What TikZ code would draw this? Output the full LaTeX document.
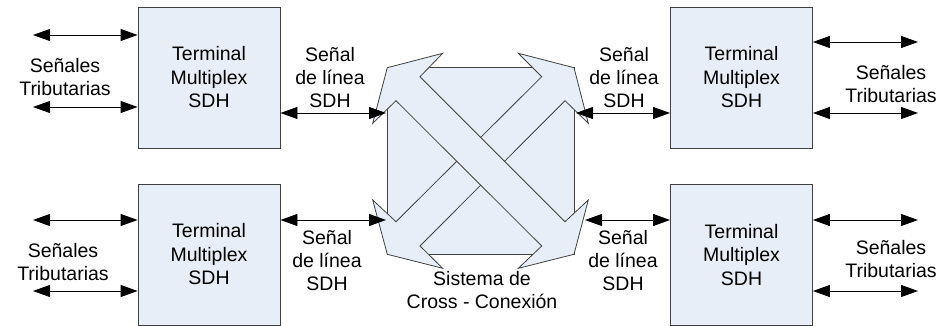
\documentclass[tikz,border=0pt]{standalone}
\usepackage{fontspec}
\setmainfont{Liberation Sans}
\usetikzlibrary{arrows.meta}
\definecolor{boxfill}{HTML}{E8EEF7}
\definecolor{boxline}{HTML}{404040}
\begin{document}
\begin{tikzpicture}[x=1pt,y=-1pt,
  tbox/.style={draw=boxline,fill=boxfill,line width=0.9pt,minimum width=142pt,minimum height=141pt,inner sep=0pt,align=center,font=\fontsize{19.5}{23.5}\selectfont},
  lbl/.style={align=center,inner sep=0pt,font=\fontsize{19.5}{23}\selectfont},
  dbl/.style={{Triangle[length=17pt,width=12pt]}-{Triangle[length=17pt,width=12pt]},line width=0.9pt,black},
  crossband/.style={draw=boxline,fill=boxfill,line width=0.8pt,line join=miter}]
\useasboundingbox (0,0) rectangle (941,326);
% boxes
\node[tbox] (tl) at (209,77.5) {Terminal\\Multiplex\\SDH};
\node[tbox] (tr) at (741.5,77.5) {Terminal\\Multiplex\\SDH};
\node[tbox] (bl) at (209,254.5) {Terminal\\Multiplex\\SDH};
\node[tbox] (br) at (741.5,255) {Terminal\\Multiplex\\SDH};
% cross-connect system
\draw[crossband] (387.3,67.7) rectangle (574,254.3);
\draw[crossband] (396,221.7) -- (372.7,200) -- (387.3,254.3) -- (442.7,268.3) -- (420,246) -- (565,100.7) -- (588.3,123.3) -- (574,67.7) -- (518.3,53.3) -- (541.7,76.7) -- cycle;
\draw[crossband] (420,76.7) -- (442.7,53.3) -- (387.3,67.7) -- (372.7,123.3) -- (396,100.7) -- (541.7,246) -- (518.3,268.3) -- (574,254.3) -- (588.3,200) -- (565,221.7) -- cycle;
\node[lbl] (cx) at (482,290) {Sistema de\\Cross - Conexión};
% connector end points
\coordinate (xtl) at (386,113);
\coordinate (xbl) at (386,220);
\coordinate (xtr) at (576,113);
\coordinate (xbr) at (585,220);
\coordinate (a1) at (33,35);
\coordinate (a2) at (33,107);
\coordinate (a3) at (33,220);
\coordinate (a4) at (33,291);
\coordinate (b1) at (918,42);
\coordinate (b2) at (918,113);
\coordinate (b3) at (918,220);
\coordinate (b4) at (918,291);
% line signal arrows
\draw[dbl] (tl.east |- xtl) -- (xtl);
\draw[dbl] (bl.east |- xbl) -- (xbl);
\draw[dbl] (xtr) -- (tr.west |- xtr);
\draw[dbl] (xbr) -- (br.west |- xbr);
% tributary arrows
\draw[dbl] (a1) -- (tl.west |- a1);
\draw[dbl] (a2) -- (tl.west |- a2);
\draw[dbl] (a3) -- (bl.west |- a3);
\draw[dbl] (a4) -- (bl.west |- a4);
\draw[dbl] (tr.east |- b1) -- (b1);
\draw[dbl] (tr.east |- b2) -- (b2);
\draw[dbl] (br.east |- b3) -- (b3);
\draw[dbl] (br.east |- b4) -- (b4);
% labels
\node[lbl] (ltl) at (65,77.5) {Señales\\Tributarias};
\node[lbl] (ltr) at (891,84) {Señales\\Tributarias};
\node[lbl] (lbl1) at (63,262) {Señales\\Tributarias};
\node[lbl] (lbr) at (891,259) {Señales\\Tributarias};
\node[lbl] (stl) at (330,78) {Señal\\de línea\\SDH};
\node[lbl] (str) at (624,78) {Señal\\de línea\\SDH};
\node[lbl] (sbl) at (327,261) {Señal\\de línea\\SDH};
\node[lbl] (sbr) at (623,261) {Señal\\de línea\\SDH};
\end{tikzpicture}
\end{document}
